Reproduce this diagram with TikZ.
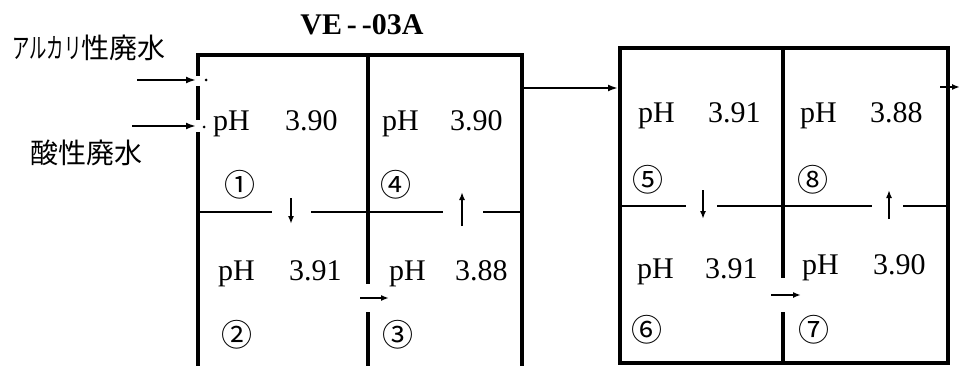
\documentclass[tikz,border=0pt]{standalone}
\usepackage{fontspec}
\setmainfont{Liberation Serif}
\newfontfamily\jpfont{Noto Sans CJK JP}
\usetikzlibrary{arrows.meta,positioning,calc}

\begin{document}
\begin{tikzpicture}[x=1pt,y=-1pt,
   wall/.style={line width=3.4pt,draw=black},
   part/.style={line width=2.6pt,draw=black},
   ar/.style={-{Latex[length=10pt,width=7pt]},line width=2.2pt},
   flow/.style={-{Latex[length=8pt,width=6pt]},line width=1.9pt},
   phval/.style={anchor=base west,inner sep=0pt,font=\fontsize{30}{34}\selectfont},
   num/.style={inner sep=0pt,font=\jpfont\fontsize{31}{34}\selectfont},
   lbl/.style={inner sep=0pt,font=\jpfont\fontsize{28}{32}\selectfont}]

  \useasboundingbox (0,0) rectangle (960,366);

  % titles and inlet labels
  \node[font=\bfseries\fontsize{30}{34}\selectfont,inner sep=0pt] (title) at (362,25) {VE\,{-}\,{-}03A};
  \node[lbl] (alk) at (89,48) {\scalebox{0.62}[1]{アルカリ}性廃水};
  \node[lbl] (acid) at (86,153) {酸性廃水};

  % tank VE-03A (cells 1-4)
  \draw[wall] (198,76) -- (198,55) -- (522,55) -- (522,366);
  \draw[wall] (198,86) -- (198,120);
  \draw[wall] (198,132) -- (198,366);
  \draw[wall] (368,55) -- (368,284);
  \draw[wall] (368,312) -- (368,366);
  \draw[part] (198,212) -- (272,212) (311,212) -- (443,212) (483,212) -- (522,212);

  % second tank (cells 5-8)
  \draw[wall] (620,48) rectangle (948,363);
  \draw[wall] (783,48) -- (783,278);
  \draw[wall] (783,312) -- (783,363);
  \draw[part] (620,206) -- (686,206) (717,206) -- (872,206) (903,206) -- (948,206);

  % ports
  \coordinate (in1s) at (137,80);  \coordinate (in1) at (196,80);
  \coordinate (in2s) at (132,126); \coordinate (in2) at (196,126);
  \coordinate (out1) at (522,88);  \coordinate (in3) at (618,88);
  \coordinate (out2) at (940,87);  \coordinate (end) at (960,87);
  \fill (206,80) circle (1.5);
  \fill (204,127) circle (1.5);

  \draw[ar] (in1s) -- (in1);
  \draw[ar] (in2s) -- (in2);
  \draw[ar] (out1) -- (in3);
  \draw[flow] (out2) -- (end);

  % flow between cells
  \draw[flow] (291,198) -- (291,224);
  \draw[flow] (462,226) -- (462,192);
  \draw[flow] (360,298) -- (389,298);
  \draw[flow] (703,190) -- (703,219);
  \draw[flow] (889,219) -- (889,190);
  \draw[flow] (771,295) -- (801,295);

  % pH readings
  \node[phval] (ph1) at (213,131) {\makebox[72pt][l]{pH}3.90};
  \node[phval] (ph4) at (382,131) {\makebox[68pt][l]{pH}3.90};
  \node[phval] (ph2) at (218,280) {\makebox[71pt][l]{pH}3.91};
  \node[phval] (ph3) at (389,280) {\makebox[66pt][l]{pH}3.88};
  \node[phval] (ph5) at (638,123) {\makebox[70pt][l]{pH}3.91};
  \node[phval] (ph8) at (800,123) {\makebox[70pt][l]{pH}3.88};
  \node[phval] (ph6) at (637,278) {\makebox[68pt][l]{pH}3.91};
  \node[phval] (ph7) at (802,274) {\makebox[71pt][l]{pH}3.90};

  % cell numbers
  \node[num] (n1) at (240,185) {①};
  \node[num] (n4) at (396,185) {④};
  \node[num] (n2) at (237,335) {②};
  \node[num] (n3) at (398,335) {③};
  \node[num] (n5) at (648,180) {⑤};
  \node[num] (n8) at (813,180) {⑧};
  \node[num] (n6) at (647,330) {⑥};
  \node[num] (n7) at (814,330) {⑦};
\end{tikzpicture}
\end{document}
